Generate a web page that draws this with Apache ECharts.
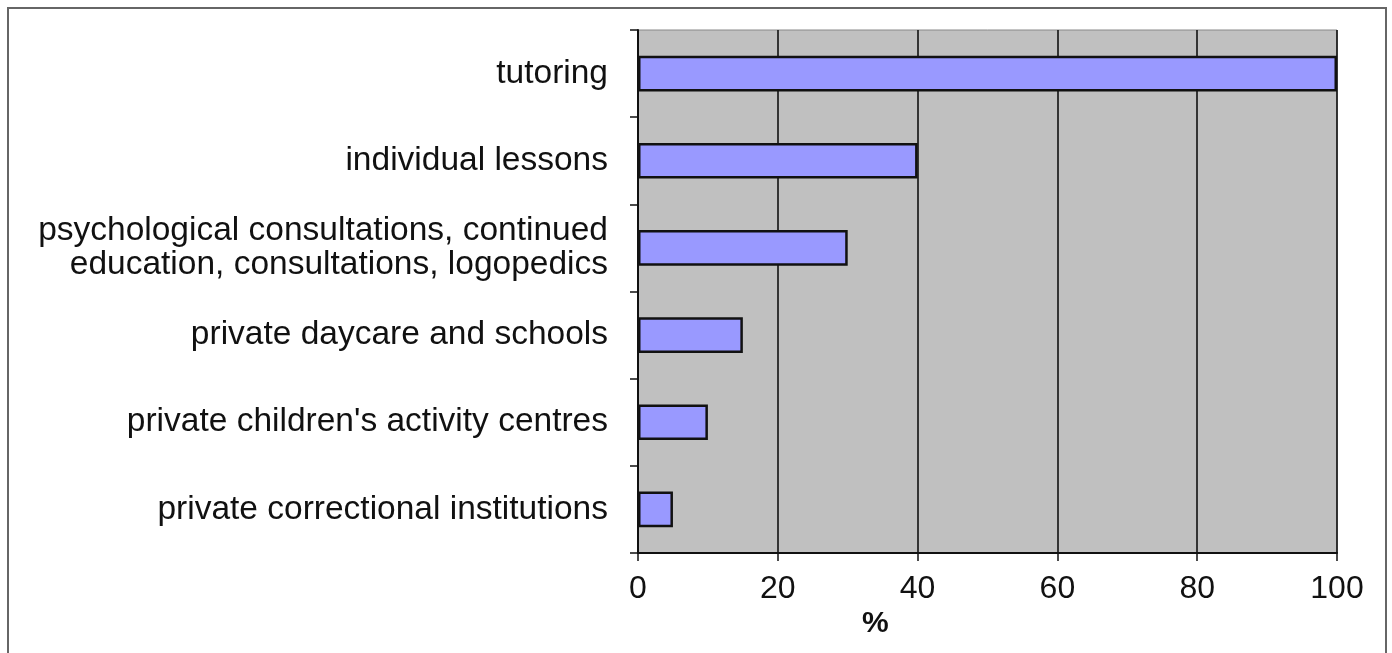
<!DOCTYPE html>
<html>
<head>
<meta charset="utf-8">
<script src="https://cdn.jsdelivr.net/npm/echarts@6/dist/echarts.min.js"></script>
<style>
  html, body { margin: 0; padding: 0; background: #fff; }
  #chart { width: 1392px; height: 653px; }
</style>
</head>
<body>
<div id="chart"></div>
<script>
// categories, top to bottom as in the picture
var categories = [
    'tutoring',
    'individual lessons',
    'psychological consultations, continued\neducation, consultations, logopedics',
    'private daycare and schools',
    "private children's activity centres",
    'private correctional institutions'
];
var shares = [100, 40, 30, 15, 10, 5];   // percent
var xTicks = [0, 20, 40, 60, 80, 100];   // tick labels on % axis

var FONT = '"Liberation Sans", Arial, Helvetica, sans-serif';

var myChart = echarts.init(document.getElementById('chart'));

var option = {
    animation: false,
    textStyle: { fontFamily: FONT },
    title: {    // axis title, sits left of centre in the original
        text: '%',
        left: 857,
        top: 604,
        textStyle: { fontFamily: FONT, fontSize: 30, fontWeight: 'bold', color: '#111' }
    },
    graphic: [
        {   // outer frame round the whole figure
            type: 'rect',
            shape: { x: 8, y: 8, width: 1378, height: 660 },
            style: { fill: 'none', stroke: '#666', lineWidth: 2 },
            silent: true
        }
    ],
    grid: {
        left: 638,
        right: 55,
        top: 30,
        bottom: 100,
        show: true,
        backgroundColor: '#c0c0c0',
        borderColor: '#888',
        borderWidth: 1
    },
    xAxis: {
        type: 'value',
        min: xTicks[0],
        max: xTicks[xTicks.length - 1],
        interval: xTicks[1] - xTicks[0],
        axisLine: { show: true, lineStyle: { color: '#111', width: 2 } },
        axisTick: { show: true, length: 8, lineStyle: { color: '#111', width: 1.5 } },
        axisLabel: { color: '#111', fontSize: 32, margin: 20, fontFamily: FONT },
        splitLine: { show: true, lineStyle: { color: '#111', width: 1.6 } }
    },
    yAxis: {
        type: 'category',
        inverse: true,
        data: categories,
        axisLine: { show: true, lineStyle: { color: '#111', width: 2 } },
        axisTick: { show: true, length: 8, lineStyle: { color: '#111', width: 1.5 } },
        axisLabel: {
            color: '#111',
            fontSize: 33.5,
            lineHeight: 34,
            margin: 30,
            align: 'right',
            fontFamily: FONT
        },
        splitLine: { show: false }
    },
    series: [
        {
            name: 'share',
            type: 'bar',
            data: shares,
            barWidth: '41%',
            itemStyle: {
                color: '#9999ff',
                borderColor: '#111',
                borderWidth: 2.5
            }
        }
    ]
};

myChart.setOption(option);
</script>
</body>
</html>
